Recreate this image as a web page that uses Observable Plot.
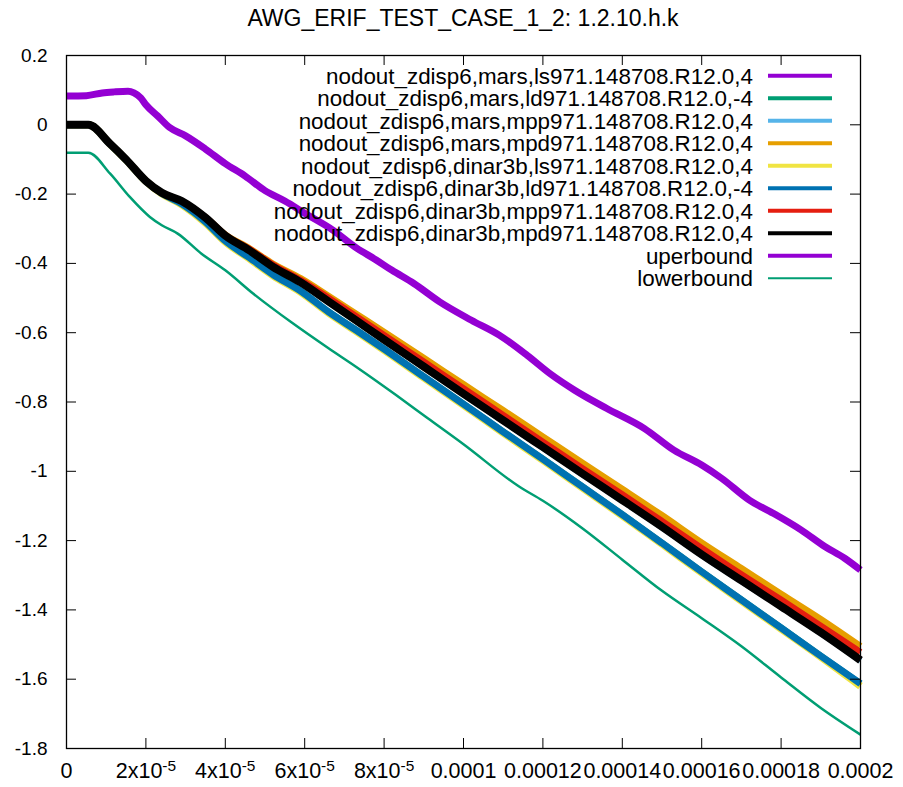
<!DOCTYPE html>
<html><head><meta charset="utf-8">
<script src="https://cdn.jsdelivr.net/npm/d3@7"></script>
<script src="https://cdn.jsdelivr.net/npm/@observablehq/plot@0.6"></script>
<style>
body{margin:0;background:#fff;}
#wrap{position:relative;width:903px;height:787px;font-family:"Liberation Sans",Arial,sans-serif;}
#title{height:40px;box-sizing:border-box;padding-top:7px;padding-left:66px;width:860px;text-align:center;font-size:23px;line-height:22px;color:#000;white-space:nowrap;}
#legend{position:absolute;left:0;top:0;}
</style></head><body>
<div id="wrap"><div id="title">AWG_ERIF_TEST_CASE_1_2: 1.2.10.h.k</div><div id="chart"></div></div>
<script>
// ---- data ----
const tBand = [0, 5.5e-6, 1.1e-5, 1.5e-5, 2.0e-5, 2.4e-5, 2.9e-5, 3.5e-5, 4.0e-5, 4.6e-5, 5.2e-5, 5.9e-5, 6.6e-5, 7.3e-5, 8.0e-5, 9.0e-5, 1.0e-4, 1.1e-4, 1.2e-4, 1.3e-4, 1.4e-4, 1.5e-4, 1.6e-4, 1.7e-4, 1.8e-4, 1.9e-4, 2.0e-4];
const vMarsLs  = [0, 0, -0.055, -0.1, -0.162, -0.196, -0.22, -0.268, -0.319, -0.361, -0.409, -0.454, -0.509, -0.564, -0.619, -0.697, -0.775, -0.852, -0.929, -1.006, -1.082, -1.159, -1.239, -1.314, -1.387, -1.464, -1.544];
const vMarsLd  = [0, 0, -0.056, -0.101, -0.163, -0.198, -0.228, -0.28, -0.334, -0.382, -0.431, -0.479, -0.539, -0.592, -0.646, -0.726, -0.805, -0.885, -0.964, -1.044, -1.124, -1.206, -1.289, -1.37, -1.451, -1.532, -1.612];
const vMarsMpp = [0, 0, -0.055, -0.1, -0.162, -0.196, -0.221, -0.27, -0.322, -0.364, -0.412, -0.457, -0.512, -0.567, -0.622, -0.7, -0.778, -0.855, -0.932, -1.009, -1.085, -1.162, -1.242, -1.317, -1.39, -1.467, -1.547];
const vMarsMpd = [0, 0, -0.055, -0.1, -0.162, -0.196, -0.22, -0.267, -0.317, -0.356, -0.401, -0.443, -0.494, -0.546, -0.598, -0.673, -0.749, -0.824, -0.9, -0.976, -1.051, -1.127, -1.206, -1.28, -1.354, -1.427, -1.505];
const vDinLs   = [0, 0, -0.056, -0.101, -0.163, -0.199, -0.23, -0.283, -0.338, -0.386, -0.435, -0.483, -0.543, -0.596, -0.65, -0.73, -0.809, -0.889, -0.968, -1.048, -1.128, -1.21, -1.293, -1.374, -1.455, -1.536, -1.62];
const vDinLd   = [0, 0, -0.056, -0.101, -0.163, -0.198, -0.228, -0.28, -0.335, -0.383, -0.432, -0.48, -0.54, -0.593, -0.647, -0.727, -0.806, -0.886, -0.965, -1.045, -1.125, -1.207, -1.29, -1.371, -1.452, -1.533, -1.613];
const vDinMpp  = [0, 0, -0.055, -0.1, -0.162, -0.196, -0.22, -0.267, -0.318, -0.358, -0.404, -0.448, -0.5, -0.553, -0.607, -0.684, -0.761, -0.838, -0.915, -0.992, -1.067, -1.144, -1.222, -1.298, -1.371, -1.446, -1.522];
const vDinMpd  = [0, 0, -0.055, -0.1, -0.162, -0.196, -0.22, -0.268, -0.32, -0.362, -0.41, -0.455, -0.51, -0.565, -0.62, -0.698, -0.776, -0.853, -0.93, -1.007, -1.083, -1.16, -1.24, -1.315, -1.39, -1.465, -1.545];
const tUpper = [0, 5e-6, 9e-6, 1.2e-5, 1.55e-5, 1.7e-5, 1.87e-5, 2.0e-5, 2.3e-5, 2.6e-5, 3.0e-5, 3.5e-5, 4.0e-5, 4.5e-5, 5.0e-5, 5.5e-5, 6.0e-5, 6.7e-5, 7.3e-5, 7.8e-5, 8.2e-5, 8.75e-5, 9.4e-5, 1.02e-4, 1.09e-4, 1.16e-4, 1.22e-4, 1.28e-4, 1.36e-4, 1.455e-4, 1.53e-4, 1.6e-4, 1.65e-4, 1.72e-4, 1.78e-4, 1.85e-4, 1.91e-4, 1.96e-4, 2.0e-4];
const vUpper = [0.083, 0.084, 0.092, 0.095, 0.097, 0.092, 0.078, 0.058, 0.025, -0.008, -0.032, -0.07, -0.112, -0.148, -0.19, -0.22, -0.255, -0.303, -0.355, -0.39, -0.42, -0.458, -0.511, -0.564, -0.607, -0.665, -0.72, -0.766, -0.818, -0.876, -0.939, -0.982, -1.02, -1.083, -1.121, -1.169, -1.217, -1.251, -1.285];
const tLower = [0, 5.5e-6, 1.1e-5, 1.6e-5, 2.1e-5, 2.4e-5, 2.8e-5, 3.4e-5, 4.0e-5, 4.7e-5, 5.7e-5, 6.6e-5, 7.3e-5, 8.3e-5, 9.1e-5, 1.0e-4, 1.14e-4, 1.2e-4, 1.3e-4, 1.4e-4, 1.5e-4, 1.6e-4, 1.7e-4, 1.8e-4, 1.9e-4, 2.0e-4];
const vLower = [-0.081, -0.081, -0.141, -0.209, -0.266, -0.29, -0.314, -0.372, -0.42, -0.487, -0.573, -0.645, -0.699, -0.78, -0.847, -0.922, -1.044, -1.085, -1.165, -1.255, -1.345, -1.424, -1.505, -1.595, -1.683, -1.76];

const seriesNames = [
  "nodout_zdisp6,mars,ls971.148708.R12.0,4",
  "nodout_zdisp6,mars,ld971.148708.R12.0,-4",
  "nodout_zdisp6,mars,mpp971.148708.R12.0,4",
  "nodout_zdisp6,mars,mpd971.148708.R12.0,4",
  "nodout_zdisp6,dinar3b,ls971.148708.R12.0,4",
  "nodout_zdisp6,dinar3b,ld971.148708.R12.0,-4",
  "nodout_zdisp6,dinar3b,mpp971.148708.R12.0,4",
  "nodout_zdisp6,dinar3b,mpd971.148708.R12.0,4",
  "uperbound",
  "lowerbound"
];
const seriesColors = ["#9400d3", "#009e73", "#56b4e9", "#e69f00", "#f0e442", "#0072b2", "#e51e10", "#000000", "#9400d3", "#009e73"];

const xTicks = [0, 2e-5, 4e-5, 6e-5, 8e-5, 1e-4, 1.2e-4, 1.4e-4, 1.6e-4, 1.8e-4, 2e-4];
const xTickLabels = ["0", "2x10^-5", "4x10^-5", "6x10^-5", "8x10^-5", "0.0001", "0.00012", "0.00014", "0.00016", "0.00018", "0.0002"];
const yTicks = [0.2, 0, -0.2, -0.4, -0.6, -0.8, -1, -1.2, -1.4, -1.6, -1.8];
const yTickLabels = ["0.2", "0", "-0.2", "-0.4", "-0.6", "-0.8", "-1", "-1.2", "-1.4", "-1.6", "-1.8"];

// ---- build ----
const seriesT = [tBand, tBand, tBand, tBand, tBand, tBand, tBand, tBand, tUpper, tLower];
const seriesV = [vMarsLs, vMarsLd, vMarsMpp, vMarsMpd, vDinLs, vDinLd, vDinMpp, vDinMpd, vUpper, vLower];
const plotWidths = [6, 6, 6, 6.5, 7.5, 7, 6.5, 8, 7, 2.5];
const legendWidths = [4, 4, 4, 4, 4, 4, 4, 4, 4, 2];

const W = 903, H = 747, ML = 66, MR = 43, MT = 15, MB = 39;
const innerW = W - ML - MR, innerH = H - MT - MB;
const FONT = "'Liberation Sans', Arial, sans-serif";
const nearest = (arr, d) => arr.findIndex(t => Math.abs(t - d) < 1e-9);

const lineMarks = seriesNames.map((name, k) => {
  const rows = seriesT[k].map((t, i) => ({t, v: seriesV[k][i]}));
  return Plot.line(rows, {x: "t", y: "v", stroke: seriesColors[k], strokeWidth: plotWidths[k], strokeLinejoin: "round", strokeLinecap: "butt", curve: "monotone-x"});
});

const chart = Plot.plot({
  width: W, height: H,
  marginLeft: ML, marginRight: MR, marginTop: MT, marginBottom: MB,
  style: {fontFamily: FONT, fontSize: "19px", color: "#000", background: "#fff"},
  x: {domain: [0, 2e-4]},
  y: {domain: [-1.8, 0.2]},
  marks: [
    ...lineMarks,
    Plot.tickY(yTicks, {y: d => d, insetRight: innerW - 10, stroke: "#000", strokeWidth: 1}),
    Plot.tickY(yTicks, {y: d => d, insetLeft: innerW - 10, stroke: "#000", strokeWidth: 1}),
    Plot.tickX(xTicks, {x: d => d, insetTop: innerH - 10, stroke: "#000", strokeWidth: 1}),
    Plot.tickX(xTicks, {x: d => d, insetBottom: innerH - 10, stroke: "#000", strokeWidth: 1}),
    Plot.axisY(yTicks, {label: null, tickSize: 0, tickPadding: 19, fontSize: 19, tickFormat: d => yTickLabels[nearest(yTicks, d)]}),
    Plot.axisX(xTicks, {label: null, tickSize: 0, tickPadding: 14, fontSize: 21.5, tickFormat: d => xTickLabels[nearest(xTicks, d)]}),
    Plot.frame({stroke: "#000", strokeWidth: 1.3})
  ]
});
document.getElementById("chart").appendChild(chart);

// superscripts for x tick labels like 2x10^-5
chart.querySelectorAll('g[aria-label="x-axis tick label"] text').forEach(el => {
  const s = el.textContent;
  const k = s.indexOf("^");
  if (k >= 0) {
    el.textContent = s.slice(0, k);
    const ts = document.createElementNS("http://www.w3.org/2000/svg", "tspan");
    ts.setAttribute("dy", "-0.45em");
    ts.setAttribute("font-size", "0.72em");
    ts.textContent = s.slice(k + 1);
    el.appendChild(ts);
  }
});

// legend overlay (inside plot area, top-right)
const leg = d3.select("#wrap").append("svg").attr("id", "legend")
  .attr("width", W).attr("height", 787).style("pointer-events", "none");
const legTop = 75.7, legStep = 22.5, textRight = 753, lineX1 = 768, lineX2 = 832;
seriesNames.forEach((name, k) => {
  const y = legTop + k * legStep;
  leg.append("text").attr("x", textRight).attr("y", y).attr("dy", "0.36em")
    .attr("text-anchor", "end").attr("font-family", FONT).attr("font-size", 22.4).attr("fill", "#000").text(name);
  leg.append("line").attr("x1", lineX1).attr("x2", lineX2).attr("y1", y).attr("y2", y)
    .attr("stroke", seriesColors[k]).attr("stroke-width", legendWidths[k]);
});
</script>
</body></html>
